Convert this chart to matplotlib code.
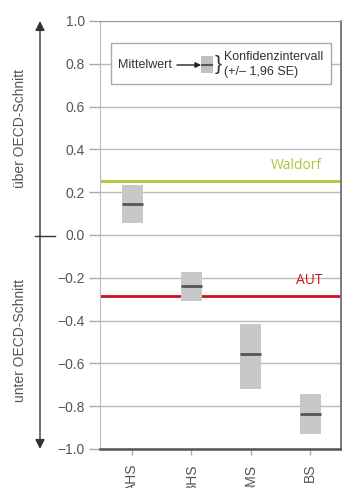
import matplotlib.pyplot as plt
from matplotlib.patches import Rectangle, FancyArrowPatch

# data
schools = ['AHS', 'BHS', 'BMS', 'BS']
means = [0.145, -0.237, -0.556, -0.835]
ci_low = [0.056, -0.31, -0.72, -0.93]
ci_high = [0.235, -0.174, -0.416, -0.744]
waldorf = 0.253
aut = -0.283
yticks = [-1.0, -0.8, -0.6, -0.4, -0.2, 0.0, 0.2, 0.4, 0.6, 0.8, 1.0]

W, H = 342, 488
fig = plt.figure(figsize=(W / 100, H / 100), dpi=100)


def fx(px):
    return px / W


def fy(py):
    # pixel from top -> figure fraction
    return 1 - py / H


ax = fig.add_axes([fx(100), fy(449), fx(241), (449 - 21) / H])

label_font = 'Liberation Sans'
tick_col = '#555555'

# confidence boxes and mean lines
pos = list(range(len(schools)))
bw = 0.355
for x, m, lo, hi in zip(pos, means, ci_low, ci_high):
    ax.add_patch(Rectangle((x - bw / 2, lo), bw, hi - lo, facecolor='#c8c8c8',
                           edgecolor='none', zorder=3))
    ax.plot([x - bw / 2, x + bw / 2], [m, m], color='#555555', lw=2, zorder=4,
            solid_capstyle='butt')

# reference lines
ax.axhline(waldorf, color='#a8c83a', lw=2, zorder=2)
ax.axhline(aut, color='#cc1122', lw=2, zorder=2)
ax.text(3.2, waldorf + 0.035, 'Waldorf', color='#a8c83a', fontsize=10,
        family='Open Sans', ha='right', va='bottom')
ax.text(3.2, aut + 0.035, 'AUT', color='#cc1122', fontsize=10,
        family='Open Sans', ha='right', va='bottom')

ax.set_xlim(-0.54, 3.52)
ax.set_ylim(-1.0, 1.0)
ax.set_yticks(yticks)
ax.set_yticklabels(['\u2212%.1f' % abs(v) if v < 0 else '%.1f' % v for v in yticks])
ax.set_xticks(pos)
ax.set_xticklabels(schools, rotation=90, va='top')
ax.yaxis.grid(True, color='#bbbbbb', lw=1)
ax.set_axisbelow(True)

ax.tick_params(axis='y', length=8, width=1, color='#aaaaaa', pad=3,
               labelsize=10, labelcolor=tick_col)
ax.tick_params(axis='x', length=4.5, width=1, color='#aaaaaa', pad=6,
               labelsize=10, labelcolor=tick_col)
for lab in ax.get_xticklabels() + ax.get_yticklabels():
    lab.set_family(label_font)

ax.spines['left'].set_color('#bbbbbb')
ax.spines['top'].set_color('#999999')
ax.spines['right'].set_color('#666666')
ax.spines['bottom'].set_color('#555555')
ax.spines['bottom'].set_linewidth(1.8)
ax.spines['right'].set_linewidth(1.2)

# left double arrow with zero tick
fig.add_artist(plt.Line2D([fx(35), fx(55)], [fy(236), fy(236)], color='#333333', lw=1))
for y_end in (21, 449):
    fig.add_artist(FancyArrowPatch((fx(40), fy(236)), (fx(40), fy(y_end)),
                                   transform=fig.transFigure, arrowstyle='-|>',
                                   color='#333333', lw=1, mutation_scale=14,
                                   shrinkA=0, shrinkB=0))
fig.text(fx(20), fy(128), '\u00fcber OECD-Schnitt', rotation=90, ha='center',
         va='center', fontsize=10, color=tick_col, family=label_font)
fig.text(fx(20), fy(340), 'unter OECD-Schnitt', rotation=90, ha='center',
         va='center', fontsize=10, color=tick_col, family=label_font)

# legend box
fig.add_artist(Rectangle((fx(111), fy(84)), fx(220), (84 - 43) / H,
                         transform=fig.transFigure, facecolor='white',
                         edgecolor='#aaaaaa', lw=1, zorder=5))
fig.text(fx(118), fy(65), 'Mittelwert', fontsize=9, color='#333333',
         family=label_font, ha='left', va='center', zorder=6)
fig.add_artist(FancyArrowPatch((fx(177), fy(65)), (fx(201), fy(65)),
                               transform=fig.transFigure, arrowstyle='-|>',
                               color='#222222', lw=1, mutation_scale=8,
                               shrinkA=0, shrinkB=0, zorder=6))
fig.add_artist(Rectangle((fx(201), fy(73)), fx(12), 17 / H,
                         transform=fig.transFigure, facecolor='#c0c0c0',
                         edgecolor='none', zorder=6))
fig.add_artist(plt.Line2D([fx(202), fx(212)], [fy(65), fy(65)], color='#555555',
                          lw=1.5, zorder=7))
fig.text(fx(215), fy(65), '}', fontsize=15, color='#333333', family=label_font,
         ha='left', va='center', zorder=6)
fig.text(fx(224), fy(57), 'Konfidenzintervall', fontsize=9, color='#333333',
         family=label_font, ha='left', va='center', zorder=6)
fig.text(fx(224), fy(72), '(+/\u2013 1,96 SE)', fontsize=9, color='#333333',
         family=label_font, ha='left', va='center', zorder=6)

fig.savefig('out.png', dpi=100)
